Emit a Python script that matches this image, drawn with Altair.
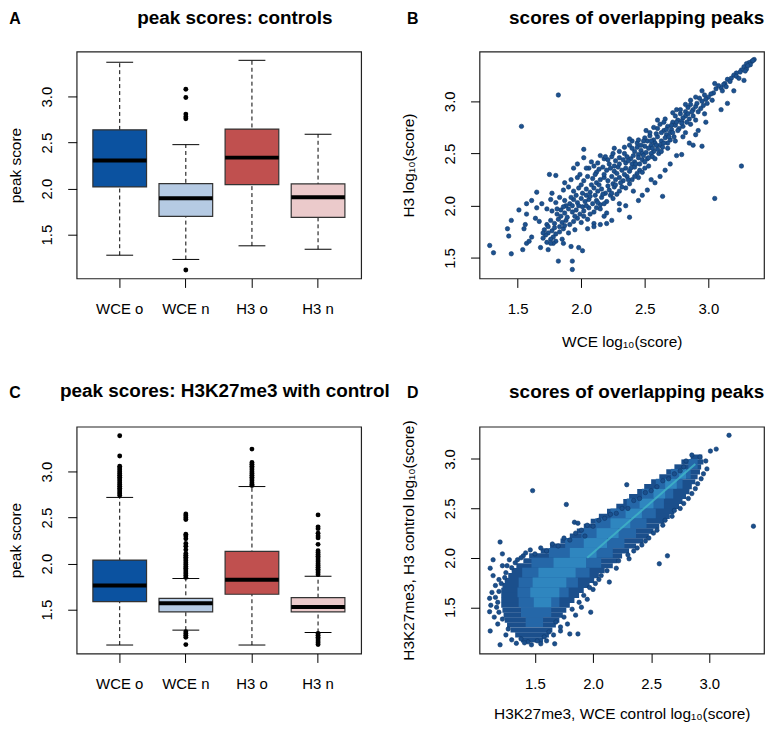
import altair as alt
import pandas as pd

FONT = "Liberation Sans"

# ---------------- box plot data ----------------
groups = ["WCE o", "WCE n", "H3 o", "H3 n"]
box_colors = ["#0b52a0", "#b5cae3", "#c0504f", "#ebcacb"]

a_low = [1.276, 1.230, 1.378, 1.341]
a_q1 = [2.018, 1.698, 2.043, 1.687]
a_med = [2.305, 1.896, 2.337, 1.907]
a_q3 = [2.639, 2.054, 2.647, 2.051]
a_high = [3.374, 2.478, 3.395, 2.590]
a_out_wce_n = [3.08, 2.99, 2.81, 2.78, 2.76, 1.115]

c_low = [1.115, 1.277, 1.115, 1.252]
c_q1 = [1.586, 1.475, 1.667, 1.475]
c_med = [1.763, 1.569, 1.824, 1.529]
c_q3 = [2.039, 1.623, 2.133, 1.630]
c_high = [2.720, 1.838, 2.838, 1.862]
c_out_wce_o = [3.39, 3.17, 3.06, 3.04, 3.02, 3.00, 2.98, 2.96, 2.94, 2.92, 2.90,
               2.88, 2.86, 2.84, 2.82, 2.80, 2.78, 2.76, 2.74]
c_out_wce_n = [2.54, 2.52, 2.50, 2.48, 2.32, 2.30, 2.27, 2.22, 2.19, 2.15, 2.11,
               2.09, 2.07, 2.05, 2.03, 2.01, 1.99, 1.97, 1.95, 1.93, 1.91, 1.89,
               1.87, 1.85, 1.26, 1.24, 1.22, 1.20, 1.12]
c_out_h3_o = [3.245, 3.10, 3.08, 3.06, 3.04, 3.02, 3.00, 2.98, 2.96, 2.94, 2.92,
              2.90, 2.88, 2.86, 2.85]
c_out_h3_n = [2.53, 2.40, 2.38, 2.33, 2.30, 2.28, 2.21, 2.14, 2.12, 2.10, 2.08,
              2.06, 2.04, 2.02, 2.00, 1.98, 1.96, 1.94, 1.92, 1.90, 1.88, 1.24,
              1.22, 1.20, 1.18, 1.16, 1.14, 1.12]

# ---------------- panel B scatter (WCE vs H3) ----------------
b_band = [
    (3.36, 3.40), (3.34, 3.38), (3.32, 3.37), (3.30, 3.36), (3.35, 3.39), (3.33, 3.35),
    (3.28, 3.33), (3.26, 3.30), (3.30, 3.31), (3.25, 3.28), (3.22, 3.27), (3.29, 3.29), (3.31, 3.34),
    (3.20, 3.25), (3.18, 3.22), (3.22, 3.24), (3.15, 3.21), (3.17, 3.19), (3.24, 3.22), (3.13, 3.17),
    (3.12, 3.16), (3.10, 3.13), (3.08, 3.15), (3.06, 3.12), (3.14, 3.14), (3.11, 3.10), (3.04, 3.08),
    (3.02, 3.07), (3.00, 3.04), (2.98, 3.02), (2.97, 3.06), (2.95, 3.00), (3.03, 3.01), (2.93, 3.03), (2.99, 2.98),
    (2.96, 2.96), (2.94, 2.93), (2.90, 2.95), (2.88, 2.92), (2.92, 2.90), (2.86, 2.97), (2.84, 2.94),
    (2.97, 2.88), (2.91, 2.98), (2.82, 2.90),
    (2.88, 2.86), (2.85, 2.83), (2.82, 2.86), (2.80, 2.84), (2.78, 2.88), (2.83, 2.80), (2.76, 2.82),
    (2.90, 2.82), (2.74, 2.86), (2.72, 2.80), (2.86, 2.78),
    (2.80, 2.76), (2.77, 2.74), (2.74, 2.77), (2.71, 2.73), (2.68, 2.76), (2.65, 2.72), (2.62, 2.78),
    (2.70, 2.70), (2.82, 2.70), (2.60, 2.74), (2.67, 2.68),
    (2.73, 2.66), (2.70, 2.63), (2.66, 2.65), (2.63, 2.62), (2.60, 2.66), (2.57, 2.63), (2.54, 2.67),
    (2.58, 2.60), (2.52, 2.62), (2.50, 2.65), (2.62, 2.58), (2.68, 2.60), (2.55, 2.58),
    (2.64, 2.56), (2.60, 2.54), (2.57, 2.52), (2.53, 2.55), (2.50, 2.57), (2.47, 2.53), (2.44, 2.56),
    (2.42, 2.52), (2.48, 2.50), (2.40, 2.55), (2.55, 2.50), (2.38, 2.58), (2.45, 2.49),
    (2.56, 2.47), (2.52, 2.45), (2.48, 2.44), (2.45, 2.46), (2.42, 2.42), (2.39, 2.45), (2.36, 2.47),
    (2.33, 2.44), (2.30, 2.46), (2.27, 2.43), (2.40, 2.40), (2.24, 2.47), (2.18, 2.45), (2.50, 2.42),
    (2.35, 2.41), (2.21, 2.44),
    (2.50, 2.36), (2.46, 2.34), (2.42, 2.37), (2.38, 2.33), (2.35, 2.36), (2.32, 2.34), (2.29, 2.37),
    (2.26, 2.33), (2.23, 2.36), (2.20, 2.34), (2.17, 2.37), (2.14, 2.35), (2.10, 2.38), (2.06, 2.36),
    (2.44, 2.31), (2.28, 2.31), (2.12, 2.32),
    (2.45, 2.27), (2.40, 2.25), (2.36, 2.28), (2.33, 2.24), (2.30, 2.27), (2.27, 2.25), (2.24, 2.28),
    (2.21, 2.24), (2.18, 2.27), (2.15, 2.25), (2.12, 2.22), (2.09, 2.26), (2.05, 2.28), (2.02, 2.24),
    (1.97, 2.27), (1.92, 2.25), (2.38, 2.21), (2.25, 2.21),
    (2.35, 2.17), (2.30, 2.14), (2.26, 2.18), (2.22, 2.15), (2.19, 2.12), (2.16, 2.16), (2.13, 2.14),
    (2.10, 2.17), (2.07, 2.13), (2.04, 2.16), (2.01, 2.12), (1.98, 2.17), (1.94, 2.14), (1.90, 2.18),
    (1.86, 2.15), (2.28, 2.11), (2.41, 2.14),
    (2.25, 2.07), (2.20, 2.04), (2.16, 2.08), (2.12, 2.05), (2.09, 2.02), (2.06, 2.06), (2.03, 2.04),
    (2.00, 2.07), (1.97, 2.03), (1.94, 2.06), (1.91, 2.02), (1.87, 2.05), (1.83, 2.08), (1.80, 2.03),
    (1.76, 2.06), (2.30, 2.02), (2.15, 2.01),
    (2.15, 1.97), (2.10, 1.94), (2.06, 1.98), (2.02, 1.95), (1.99, 1.92), (1.96, 1.96), (1.93, 1.94),
    (1.90, 1.97), (1.87, 1.93), (1.84, 1.96), (1.81, 1.92), (1.77, 1.95), (1.73, 1.97), (2.20, 1.93),
    (2.05, 1.87), (2.00, 1.84), (1.97, 1.88), (1.94, 1.85), (1.91, 1.82), (1.88, 1.86), (1.85, 1.84),
    (1.82, 1.87), (1.79, 1.83), (1.76, 1.86), (1.73, 1.82), (2.10, 1.83),
    (1.95, 1.77), (1.90, 1.74), (1.86, 1.78), (1.83, 1.75), (1.80, 1.73), (1.77, 1.76), (1.74, 1.74),
    (1.71, 1.77), (1.72, 1.72), (1.78, 1.70),
    (1.85, 1.68), (1.80, 1.66), (1.76, 1.68), (1.73, 1.65), (1.70, 1.69), (1.78, 1.64),
]
b_dense = [
    (1.88, 2.00), (1.92, 2.08), (1.96, 2.10), (2.00, 2.20), (2.04, 2.10), (2.08, 2.20), (2.11, 2.30),
    (2.14, 2.20), (2.18, 2.30), (2.22, 2.40), (2.26, 2.38), (2.30, 2.40), (2.34, 2.50), (2.37, 2.43),
    (2.41, 2.48), (2.44, 2.60), (2.47, 2.58), (2.51, 2.51), (2.55, 2.62), (2.59, 2.69), (2.63, 2.70),
    (2.67, 2.73), (2.71, 2.77), (2.75, 2.80), (2.79, 2.81), (1.84, 1.90), (1.86, 1.99), (1.89, 1.89),
    (1.93, 2.00), (1.95, 1.90), (1.98, 2.00), (2.01, 1.99), (2.04, 2.00), (2.07, 2.09), (2.11, 2.10),
    (2.13, 2.03), (2.17, 2.11), (2.21, 2.19), (2.23, 2.10), (2.27, 2.20), (2.31, 2.22), (2.34, 2.30),
    (2.37, 2.25), (2.39, 2.36), (2.43, 2.40), (2.46, 2.40), (2.49, 2.48), (2.53, 2.46), (2.56, 2.55),
    (2.59, 2.58), (2.61, 2.50), (2.65, 2.60), (2.69, 2.66), (2.72, 2.70), (2.76, 2.72), (2.79, 2.79),
    (2.84, 2.88), (2.87, 2.90), (1.70, 1.74), (1.74, 1.80), (1.79, 1.79), (1.83, 1.80), (1.87, 1.81),
    (1.81, 1.97), (2.02, 1.90), (2.07, 1.92), (2.12, 1.98), (2.18, 2.02), (2.24, 2.12), (2.32, 2.18),
    (2.42, 2.28), (2.48, 2.32), (2.53, 2.38), (2.58, 2.45), (2.63, 2.52), (2.68, 2.55), (2.74, 2.62),
    (2.80, 2.66), (1.99, 2.30), (2.08, 2.42), (2.13, 2.41), (2.26, 2.55), (2.34, 2.56), (2.40, 2.62),
    (2.51, 2.72), (2.57, 2.75), (2.66, 2.83), (2.75, 2.92), (2.86, 3.01),
]
b_scatter = [
    (1.28, 1.62), (1.31, 1.55), (1.45, 1.54), (1.42, 1.78), (1.43, 1.71), (1.45, 1.86), (1.51, 1.96),
    (1.54, 1.58), (1.55, 1.78), (1.57, 1.92), (1.57, 2.02), (1.56, 1.82), (1.57, 1.64), (1.61, 2.05),
    (1.61, 1.70), (1.59, 1.66), (1.65, 2.13), (1.65, 1.98), (1.64, 1.88), (1.67, 1.85), (1.68, 1.60),
    (1.53, 2.76), (1.82, 3.06), (1.69, 2.02), (1.75, 2.30), (1.77, 2.12), (1.80, 2.29), (1.87, 2.22),
    (1.94, 2.36), (1.97, 2.40), (2.02, 2.54), (2.02, 2.46), (2.04, 2.36), (2.15, 2.48), (2.19, 2.47),
    (2.25, 2.50), (2.30, 2.52), (2.38, 2.64), (2.45, 2.63), (2.49, 2.62), (2.54, 2.70), (2.60, 2.82),
    (2.65, 2.80), (2.72, 2.89), (2.78, 2.92), (2.82, 2.97), (2.90, 3.04), (2.95, 3.10), (3.05, 3.17),
    (1.82, 1.47), (1.93, 1.47), (1.93, 1.39), (1.92, 1.61), (1.98, 1.60), (2.01, 1.57), (1.86, 1.64),
    (1.76, 1.64), (1.74, 1.58), (2.05, 1.78), (2.10, 1.80), (2.15, 1.82), (2.20, 1.83), (2.24, 1.86),
    (2.18, 1.90), (2.30, 1.96), (2.35, 2.00), (2.38, 1.89), (2.45, 2.05), (2.48, 2.10), (2.52, 2.15),
    (2.55, 2.25), (2.58, 2.22), (2.62, 2.28), (2.64, 2.09), (2.66, 2.34), (2.70, 2.40), (2.75, 2.48),
    (2.79, 2.49), (2.85, 2.60), (2.88, 2.58), (2.95, 2.57), (2.90, 2.68), (2.92, 2.72), (2.98, 2.80),
    (3.05, 2.07), (3.26, 2.38), (3.10, 2.92), (3.15, 2.98), (3.20, 3.10), (3.28, 3.20),
]

# ---------------- panel D (dense scatter, read as row extents) ----------------
d_outer_y = [3.02, 2.97, 2.92, 2.87, 2.82, 2.77, 2.72, 2.67, 2.62, 2.57, 2.52, 2.47, 2.42,
             2.37, 2.32, 2.27, 2.22, 2.17, 2.12, 2.07, 2.02, 1.97, 1.92, 1.87, 1.82, 1.77,
             1.72, 1.67, 1.62, 1.57, 1.52, 1.47, 1.42, 1.37, 1.32, 1.27, 1.22, 1.17]
d_outer_x1 = [2.84, 2.76, 2.70, 2.63, 2.57, 2.50, 2.44, 2.38, 2.31, 2.26, 2.20, 2.12, 2.05,
              1.98, 1.92, 1.86, 1.80, 1.72, 1.63, 1.55, 1.45, 1.40, 1.34, 1.30, 1.27, 1.24,
              1.22, 1.21, 1.21, 1.21, 1.21, 1.22, 1.23, 1.24, 1.26, 1.29, 1.33, 1.38]
d_outer_x2 = [2.94, 2.95, 2.93, 2.92, 2.90, 2.88, 2.85, 2.83, 2.80, 2.77, 2.74, 2.70, 2.66,
              2.61, 2.57, 2.52, 2.48, 2.43, 2.37, 2.31, 2.25, 2.21, 2.17, 2.10, 2.05, 2.01,
              1.97, 1.92, 1.88, 1.84, 1.80, 1.77, 1.74, 1.71, 1.68, 1.65, 1.62, 1.57]
d_mid_y = [2.95, 2.85, 2.75, 2.65, 2.55, 2.45, 2.35, 2.25, 2.15, 2.05, 1.95, 1.85, 1.75,
           1.65, 1.55, 1.45, 1.35]
d_mid_x1 = [2.82, 2.67, 2.54, 2.42, 2.29, 2.15, 2.02, 1.90, 1.76, 1.62, 1.47, 1.39, 1.36,
            1.35, 1.36, 1.38, 1.42]
d_mid_x2 = [2.90, 2.84, 2.77, 2.69, 2.61, 2.54, 2.46, 2.37, 2.27, 2.17, 2.07, 1.97, 1.87,
            1.79, 1.71, 1.64, 1.57]
d_core_y = [2.85, 2.75, 2.65, 2.55, 2.45, 2.35, 2.25, 2.15, 2.05, 1.95, 1.85, 1.75, 1.65, 1.55]
d_core_x1 = [2.74, 2.62, 2.52, 2.40, 2.28, 2.15, 2.03, 1.92, 1.80, 1.66, 1.53, 1.48, 1.46, 1.49]
d_core_x2 = [2.80, 2.72, 2.62, 2.52, 2.42, 2.32, 2.22, 2.12, 2.03, 1.94, 1.85, 1.77, 1.71, 1.64]
d_ridge_x = [1.95, 2.88]
d_ridge_y = [2.00, 2.95]
d_points = [
    (1.48, 2.68), (1.77, 2.54), (3.17, 3.24), (3.38, 2.32), (2.57, 1.94), (2.64, 2.02), (2.29, 2.74),
    (1.20, 2.16), (1.22, 2.04), (1.14, 1.98), (1.115, 1.895), (1.11, 1.59), (1.11, 1.455), (1.115, 1.26),
    (1.20, 1.12), (1.34, 1.135), (1.47, 1.12), (1.67, 1.13), (1.80, 1.23), (1.87, 1.23), (1.98, 1.45),
    (2.14, 1.755), (2.07, 1.82), (2.20, 1.895), (2.31, 1.99), (1.84, 2.36), (1.87, 2.35), (1.93, 2.22),
    (3.01, 3.08), (3.06, 3.10), (2.85, 3.04),
    (1.15, 1.40), (1.18, 1.33), (1.16, 1.72), (1.14, 1.82), (1.25, 1.85), (1.28, 1.98), (1.17, 1.50),
    (1.25, 1.22), (1.38, 1.18), (1.44, 1.15), (1.52, 1.16), (1.58, 1.20), (1.62, 1.25), (1.72, 1.26),
    (1.68, 1.35), (1.75, 1.40), (1.82, 1.48), (1.88, 1.55), (1.92, 1.62), (1.97, 1.70), (2.02, 1.74),
    (2.35, 2.07), (2.42, 2.13), (2.48, 2.20), (2.55, 2.28), (2.62, 2.38), (2.70, 2.48), (2.78, 2.55),
    (2.85, 2.65), (2.90, 2.75), (2.95, 2.85), (2.50, 2.68), (2.40, 2.60), (2.30, 2.50), (2.20, 2.45),
    (2.10, 2.40), (2.00, 2.32), (1.90, 2.28), (1.80, 2.18), (1.70, 2.12), (1.60, 2.07), (1.50, 2.04),
    (1.40, 2.02), (1.35, 1.98), (2.60, 2.78), (2.70, 2.85), (2.78, 2.92),
    (1.13, 1.65), (1.12, 1.52), (1.16, 1.60), (1.19, 1.78), (1.22, 1.92), (1.26, 1.92), (1.30, 1.90),
    (1.33, 1.95), (1.38, 2.00), (1.42, 2.05), (1.46, 2.08), (1.55, 2.10), (1.65, 2.14), (1.75, 2.20),
    (1.85, 2.25), (1.95, 2.33), (2.05, 2.38), (2.15, 2.44), (2.25, 2.50), (2.35, 2.58), (2.45, 2.66),
    (2.55, 2.72), (2.65, 2.80), (2.75, 2.88), (2.80, 2.98), (2.92, 3.02), (2.97, 2.98), (2.98, 2.90),
    (2.93, 2.80), (2.88, 2.70), (2.82, 2.60), (2.75, 2.50), (2.68, 2.42), (2.60, 2.33), (2.52, 2.25),
    (2.45, 2.17), (2.38, 2.10), (2.30, 2.03), (2.22, 1.97), (2.12, 1.87), (2.05, 1.78), (2.00, 1.68),
    (1.95, 1.58), (1.90, 1.50), (1.85, 1.42), (1.78, 1.33), (1.72, 1.30), (1.66, 1.22), (1.60, 1.16),
    (1.55, 1.13), (1.41, 1.14), (1.30, 1.17), (1.27, 1.28), (1.22, 1.38), (1.19, 1.45), (1.18, 1.55),
    (1.19, 1.66), (1.21, 1.74), (1.24, 1.80),
]

tick_vals = [1.5, 2.0, 2.5, 3.0]
W, H = 286, 228


def y_axis(title, title_x):
    return alt.Axis(values=tick_vals, format=".1f", title=title, labelAngle=-90,
                    labelAlign="center", labelBaseline="alphabetic", labelPadding=16,
                    titleAngle=-90, titleBaseline="alphabetic", titleAlign="center",
                    titleX=title_x, titleY=H / 2)


def x_num_axis(title, title_y):
    return alt.Axis(values=tick_vals, format=".1f", title=title, labelAngle=0,
                    labelBaseline="alphabetic", labelPadding=26,
                    titleBaseline="alphabetic", titleAlign="center",
                    titleX=W / 2, titleY=title_y)


def text_layers(letter, lx, ly, title, tx, ty):
    df = pd.DataFrame({"t": [letter], "h": [title]})
    base = alt.Chart(df)
    let = base.mark_text(font=FONT, fontSize=16, fontWeight="bold", align="center",
                         baseline="alphabetic", color="black").encode(
        x=alt.value(lx), y=alt.value(ly), text="t:N")
    tit = base.mark_text(font=FONT, fontSize=19, fontWeight="bold", align="center",
                         baseline="alphabetic", color="black").encode(
        x=alt.value(tx), y=alt.value(ty), text="h:N")
    return [let, tit]


def box_panel(low, q1, med, q3, high, out_groups, out_vals, letter, ly, title, tx, ty):
    stats = pd.DataFrame({"group": groups, "low": low, "q1": q1, "med": med,
                          "q3": q3, "high": high})
    outs = pd.DataFrame({"group": out_groups, "val": out_vals})
    xs = alt.X("group:N", sort=groups,
               scale=alt.Scale(domain=groups, paddingInner=0.188, paddingOuter=0.2455),
               axis=alt.Axis(title=None, labelAngle=0, labelBaseline="alphabetic",
                             labelPadding=26))
    yscale = alt.Scale(domain=[1.023, 3.489], nice=False, zero=False)
    yax = y_axis("peak score", -56)

    def Y(f):
        return alt.Y(f, scale=yscale, axis=yax)

    base = alt.Chart(stats)
    whisk = base.mark_rule(color="black", strokeWidth=1, strokeDash=[4, 3]).encode(
        x=xs, y=Y("low:Q"), y2="high:Q")
    box = base.mark_bar(stroke="#333333", strokeWidth=1.2, opacity=1).encode(
        x=xs, y=Y("q1:Q"), y2="q3:Q",
        color=alt.Color("group:N", scale=alt.Scale(domain=groups, range=box_colors),
                        legend=None))
    med_t = base.mark_tick(color="black", size=54, thickness=4, opacity=1).encode(
        x=xs, y=Y("med:Q"))
    cap_lo = base.mark_tick(color="black", size=27, thickness=1, opacity=1).encode(
        x=xs, y=Y("low:Q"))
    cap_hi = base.mark_tick(color="black", size=27, thickness=1, opacity=1).encode(
        x=xs, y=Y("high:Q"))
    pts = alt.Chart(outs).mark_circle(color="black", size=24, opacity=1).encode(
        x=xs, y=Y("val:Q"))
    layers = [whisk, box, med_t, cap_lo, cap_hi, pts] + text_layers(letter, -62, ly, title, tx, ty)
    return alt.layer(*layers).properties(width=W, height=H)


# ---- panel A
A = box_panel(a_low, a_q1, a_med, a_q3, a_high,
              ["WCE n"] * len(a_out_wce_n), a_out_wce_n,
              "A", -28, "peak scores: controls", 159, -28)

# ---- panel C
c_groups = (["WCE o"] * len(c_out_wce_o) + ["WCE n"] * len(c_out_wce_n)
            + ["H3 o"] * len(c_out_h3_o) + ["H3 n"] * len(c_out_h3_n))
c_vals = c_out_wce_o + c_out_wce_n + c_out_h3_o + c_out_h3_n
C = box_panel(c_low, c_q1, c_med, c_q3, c_high, c_groups, c_vals,
              "C", -29, "peak scores: H3K27me3 with control", 149, -30)

# ---- panel B
b_all = b_band + b_dense + b_scatter
dfB = pd.DataFrame({"x": [p[0] for p in b_all], "y": [p[1] for p in b_all]})
bx = alt.X("x:Q", scale=alt.Scale(domain=[1.2, 3.4375], nice=False, zero=False),
           axis=x_num_axis("WCE log₁₀(score)", 68))
by = alt.Y("y:Q", scale=alt.Scale(domain=[1.304, 3.475], nice=False, zero=False),
           axis=y_axis("H3 log₁₀(score)", -66))
B_pts = alt.Chart(dfB).mark_circle(size=20, color="#1d5290", opacity=1,
                                   stroke="#103a6c", strokeWidth=0.6).encode(x=bx, y=by)
B = alt.layer(B_pts, *text_layers("B", -67, -28, "scores of overlapping peaks", 158, -28)
              ).properties(width=W, height=H)

# ---- panel D
dxs = alt.Scale(domain=[1.023, 3.471], nice=False, zero=False)
dys = alt.Scale(domain=[1.032, 3.327], nice=False, zero=False)
dxa = x_num_axis("H3K27me3, WCE control log₁₀(score)", 65)
dya = y_axis("H3K27me3, H3 control log₁₀(score)", -66)


def seg_df(ys, x1, x2, half):
    return pd.DataFrame({"x1": x1, "x2": x2,
                         "ylo": [v - half for v in ys], "yhi": [v + half for v in ys]})


def seg_layer(df, color):
    return alt.Chart(df).mark_rect(color=color, opacity=1).encode(
        x=alt.X("x1:Q", scale=dxs, axis=dxa), x2="x2:Q",
        y=alt.Y("ylo:Q", scale=dys, axis=dya), y2="yhi:Q")


D_outer = seg_layer(seg_df(d_outer_y, d_outer_x1, d_outer_x2, 0.026), "#1b4f8c")
D_mid = seg_layer(seg_df(d_mid_y, d_mid_x1, d_mid_x2, 0.05), "#2567a8")
D_core = seg_layer(seg_df(d_core_y, d_core_x1, d_core_x2, 0.05), "#2f86bf")
D_ridge = alt.Chart(pd.DataFrame({"x": d_ridge_x, "y": d_ridge_y})).mark_line(
    color="#3fb3c6", strokeWidth=2, opacity=0.85).encode(
    x=alt.X("x:Q", scale=dxs, axis=dxa), y=alt.Y("y:Q", scale=dys, axis=dya))
dfD = pd.DataFrame({"x": [p[0] for p in d_points], "y": [p[1] for p in d_points]})
D_pts = alt.Chart(dfD).mark_circle(size=20, color="#1b4f8c", opacity=1,
                                   stroke="#103a6c", strokeWidth=0.6).encode(
    x=alt.X("x:Q", scale=dxs, axis=dxa), y=alt.Y("y:Q", scale=dys, axis=dya))
D = alt.layer(D_outer, D_mid, D_core, D_ridge, D_pts,
              *text_layers("D", -67, -29, "scores of overlapping peaks", 158, -29)
              ).properties(width=W, height=H)

chart = alt.concat(A, B, C, D, columns=2, spacing={"row": 149, "column": 119},
                   bounds="flush").properties(
    padding={"left": 0, "top": -2, "right": 0, "bottom": 0}
).configure_view(stroke="#222222", strokeWidth=1.2).configure_axis(
    labelFont=FONT, labelFontSize=15, labelColor="black",
    titleFont=FONT, titleFontSize=15.5, titleFontWeight="normal", titleColor="black",
    tickColor="black", tickSize=9, tickWidth=1, domain=False, grid=False
)

chart.save("out.html", embed_options={"renderer": "svg", "actions": False})
